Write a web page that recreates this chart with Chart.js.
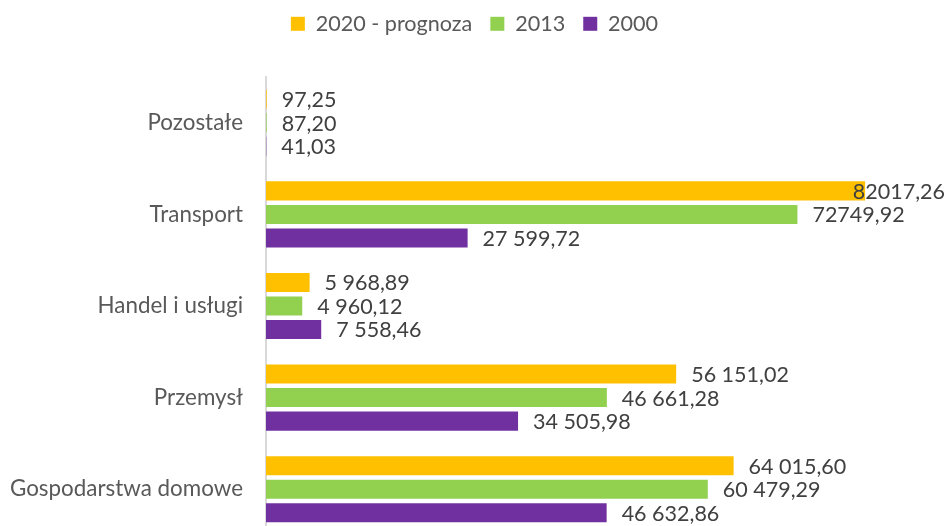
<!DOCTYPE html>
<html>
<head>
<meta charset="utf-8">
<script src="https://cdn.jsdelivr.net/npm/chart.js@4"></script>
<style>
  html, body { margin: 0; padding: 0; background: #fff; overflow: hidden; }
  canvas { display: block; }
</style>
</head>
<body>
<canvas id="wykres" width="949" height="535"></canvas>
<script>
// kategorie (od góry)
const kategorie = ["Pozostałe", "Transport", "Handel i usługi", "Przemysł", "Gospodarstwa domowe"];

// serie
const nazwySerii = ["2020 - prognoza", "2013", "2000"];
const prognoza2020 = [97.25, 82017.26, 5968.89, 56151.02, 64015.60];
const rok2013 = [87.20, 72749.92, 4960.12, 46661.28, 60479.29];
const rok2000 = [41.03, 27599.72, 7558.46, 34505.98, 46632.86];

// etykiety danych tak jak na wykresie
const etykiety2020 = ["97,25", "82017,26", "5 968,89", "56 151,02", "64 015,60"];
const etykiety2013 = ["87,20", "72749,92", "4 960,12", "46 661,28", "60 479,29"];
const etykiety2000 = ["41,03", "27 599,72", "7 558,46", "34 505,98", "46 632,86"];

const kolory = ["#FFC000", "#92D050", "#7030A0"];
const FONT = "Lato";

// legenda: stała wysokość (obszar wykresu od ok. 77 px) i przesunięta w górę
const legendaUklad = {
  id: "legendaUklad",
  beforeInit(chart) {
    const lg = chart.legend;
    const fit = lg.fit;
    lg.fit = function () {
      fit.call(this);
      this.height = 77;
    };
    const draw = lg.draw;
    lg.draw = function () {
      this.ctx.save();
      this.ctx.translate(0, -5);
      draw.call(this);
      this.ctx.restore();
    };
  }
};

const etykietyDanych = {
  id: "etykietyDanych",
  afterDatasetsDraw(chart) {
    const ctx = chart.ctx;
    const wszystkie = [etykiety2020, etykiety2013, etykiety2000];
    ctx.save();
    ctx.font = "21.5px " + FONT;
    ctx.fillStyle = "#404040";
    ctx.textBaseline = "middle";
    ctx.textAlign = "left";
    chart.data.datasets.forEach((ds, i) => {
      const meta = chart.getDatasetMeta(i);
      meta.data.forEach((bar, j) => {
        const txt = wszystkie[i][j];
        const w = ctx.measureText(txt).width;
        let x = bar.x + 15;
        if (x + w > chart.width - 4) x = chart.width - 4 - w;
        ctx.fillText(txt, x, bar.y + 1);
      });
    });
    ctx.restore();
  }
};

new Chart(document.getElementById("wykres"), {
  type: "bar",
  data: {
    labels: kategorie,
    datasets: [
      { label: nazwySerii[0], data: prognoza2020, backgroundColor: kolory[0] },
      { label: nazwySerii[1], data: rok2013, backgroundColor: kolory[1] },
      { label: nazwySerii[2], data: rok2000, backgroundColor: kolory[2] }
    ]
  },
  options: {
    indexAxis: "y",
    responsive: false,
    animation: false,
    categoryPercentage: 0.77,
    barPercentage: 0.81,
    layout: { autoPadding: false, padding: 0 },
    scales: {
      x: { display: false, min: 0, max: 93500 },
      y: {
        afterFit: (scale) => {
          scale.width = 266;
          scale.paddingTop = 0;
          scale.paddingBottom = 0;
        },
        grid: { display: false, drawTicks: false },
        border: { display: true, color: "#d9d9d9", width: 2 },
        ticks: { padding: 23, color: "#595959", font: { family: FONT, size: 22.4 } }
      }
    },
    plugins: {
      tooltip: { enabled: false },
      legend: {
        position: "top",
        labels: {
          color: "#595959",
          font: { family: FONT, size: 21.6 },
          boxWidth: 14,
          boxHeight: 14,
          padding: 18
        }
      }
    }
  },
  plugins: [legendaUklad, etykietyDanych]
});
</script>
</body>
</html>
